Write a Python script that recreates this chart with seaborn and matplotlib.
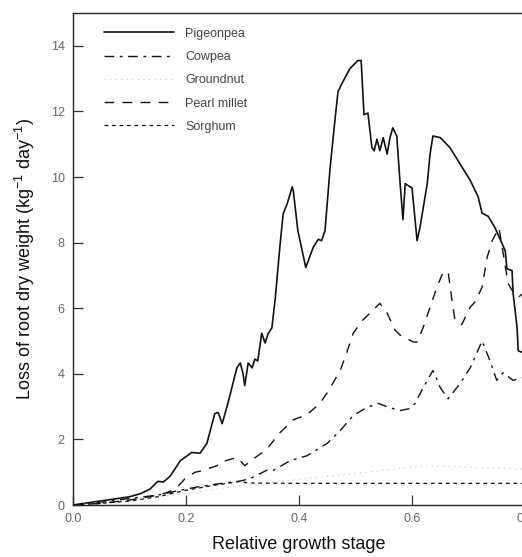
import matplotlib
matplotlib.use("Agg")
import matplotlib.pyplot as plt
import seaborn as sns
import pandas as pd

sns.set_theme(style="white")
plt.rcParams['font.family'] = ['Liberation Sans', 'DejaVu Sans']
plt.rcParams['mathtext.fontset'] = 'custom'
plt.rcParams['mathtext.rm'] = 'Liberation Sans'

# ---------------- data ----------------
pigeonpea_x = [0.0, 0.02, 0.04, 0.06, 0.08, 0.10, 0.12, 0.136, 0.15, 0.16, 0.172, 0.19, 0.21, 0.225,
               0.237, 0.251, 0.257, 0.264, 0.274, 0.29, 0.296, 0.301, 0.304, 0.31, 0.317, 0.322, 0.327,
               0.334, 0.34, 0.345, 0.352, 0.358, 0.366, 0.372, 0.379, 0.388, 0.39, 0.398, 0.412, 0.425,
               0.434, 0.44, 0.446, 0.455, 0.464, 0.469, 0.476, 0.49, 0.504, 0.51, 0.515, 0.522, 0.529,
               0.533, 0.538, 0.543, 0.549, 0.556, 0.561, 0.566, 0.573, 0.579, 0.584, 0.588, 0.592, 0.6,
               0.609, 0.614, 0.627, 0.632, 0.637, 0.65, 0.667, 0.685, 0.703, 0.717, 0.724, 0.735, 0.747,
               0.756, 0.765, 0.768, 0.777, 0.779, 0.786, 0.788, 0.793, 0.8]
pigeonpea_y = [0.0, 0.05, 0.1, 0.15, 0.2, 0.25, 0.35, 0.48, 0.72, 0.7, 0.88, 1.35, 1.6, 1.58,
               1.88, 2.79, 2.82, 2.48, 3.09, 4.18, 4.33, 4.0, 3.64, 4.33, 4.18, 4.45, 4.39,
               5.24, 4.94, 5.21, 5.4, 6.3, 7.85, 8.88, 9.18, 9.7, 9.57, 8.36, 7.24, 7.85,
               8.1, 8.06, 8.36, 10.27, 11.8, 12.6, 12.85, 13.3, 13.55, 13.55, 11.9, 11.95, 10.9,
               10.8, 11.15, 10.8, 11.2, 10.7, 11.2, 11.5, 11.25, 9.8, 8.7, 9.8, 9.75, 9.67,
               8.06, 8.45, 9.8, 10.7, 11.25, 11.2, 10.9, 10.4, 9.9, 9.4, 8.9, 8.8, 8.45,
               8.1, 7.75, 7.2, 7.15, 6.45, 5.4, 4.7, 4.67, 4.6]

cowpea_x = [0.0, 0.05, 0.1, 0.15, 0.19, 0.22, 0.255, 0.296, 0.313, 0.343, 0.354, 0.384, 0.414, 0.45,
            0.473, 0.496, 0.52, 0.54, 0.56, 0.579, 0.596, 0.605, 0.62, 0.637, 0.65, 0.664, 0.685,
            0.703, 0.724, 0.738, 0.75, 0.761, 0.779, 0.8]
cowpea_y = [0.0, 0.08, 0.2, 0.3, 0.45, 0.55, 0.64, 0.73, 0.8, 1.06, 1.05, 1.35, 1.5, 1.88,
            2.27, 2.73, 2.97, 3.1, 2.97, 2.88, 2.94, 3.09, 3.58, 4.1, 3.58, 3.24, 3.7,
            4.18, 5.0, 4.4, 3.8, 4.03, 3.8, 3.9]

groundnut_x = [0.0, 0.1, 0.2, 0.3, 0.437, 0.52, 0.62, 0.7, 0.8]
groundnut_y = [0.0, 0.15, 0.35, 0.6, 0.85, 1.0, 1.2, 1.15, 1.1]

pearl_x = [0.0, 0.05, 0.1, 0.15, 0.17, 0.185, 0.198, 0.216, 0.225, 0.255, 0.26, 0.29, 0.304, 0.319,
           0.343, 0.366, 0.39, 0.414, 0.437, 0.451, 0.473, 0.485, 0.496, 0.513, 0.531, 0.543, 0.556,
           0.57, 0.579, 0.602, 0.609, 0.62, 0.632, 0.644, 0.655, 0.664, 0.67, 0.676, 0.688, 0.703,
           0.712, 0.724, 0.733, 0.742, 0.754, 0.77, 0.777, 0.788, 0.8]
pearl_y = [0.0, 0.05, 0.15, 0.3, 0.4, 0.55, 0.8, 1.0, 1.03, 1.2, 1.3, 1.45, 1.2, 1.4,
           1.7, 2.2, 2.6, 2.75, 3.1, 3.45, 4.1, 4.67, 5.24, 5.64, 5.94, 6.15, 5.85,
           5.33, 5.18, 4.97, 4.97, 5.42, 6.03, 6.64, 7.1, 7.1, 6.33, 5.64, 5.5, 6.03,
           6.2, 6.64, 7.55, 8.06, 8.45, 6.76, 6.55, 6.33, 6.5]

sorghum_x = [0.0, 0.05, 0.1, 0.15, 0.2, 0.25, 0.296, 0.31, 0.4, 0.5, 0.6, 0.7, 0.8]
sorghum_y = [0.0, 0.05, 0.12, 0.25, 0.45, 0.6, 0.72, 0.67, 0.66, 0.66, 0.66, 0.66, 0.66]

x_ticks = [0.0, 0.2, 0.4, 0.6, 0.8]
x_tick_labels = ["0.0", "0.2", "0.4", "0.6", "0.8"]
y_ticks = [0, 2, 4, 6, 8, 10, 12, 14]

series = [
    ("Pigeonpea", pigeonpea_x, pigeonpea_y, dict(color="#111111", linestyle="-", linewidth=1.2)),
    ("Cowpea", cowpea_x, cowpea_y, dict(color="#111111", linestyle=(0, (7, 4, 2, 4)), linewidth=1.0)),
    ("Groundnut", groundnut_x, groundnut_y, dict(color="#c8c8c8", linestyle=(0, (1, 4)), linewidth=0.8)),
    ("Pearl millet", pearl_x, pearl_y, dict(color="#111111", linestyle=(0, (7, 6)), linewidth=1.0)),
    ("Sorghum", sorghum_x, sorghum_y, dict(color="#111111", linestyle=(0, (3, 3)), linewidth=0.9)),
]

# ---------------- figure ----------------
fig = plt.figure(figsize=(5.22, 5.57), dpi=100)
ax = fig.add_axes([73 / 522, 1 - 505 / 557, (525 - 73) / 522, (505 - 13) / 557])

for name, xs, ys, style in series:
    df = pd.DataFrame({"x": xs, "y": ys})
    sns.lineplot(data=df, x="x", y="y", ax=ax, label=name, sort=False, **style)

ax.set_xlim(0, 0.8)
ax.set_ylim(0, 15)
ax.set_xticks(x_ticks)
ax.set_xticklabels(x_tick_labels)
ax.set_yticks(y_ticks)
ax.tick_params(direction="in", length=7, width=0.9, colors="#333333",
               labelcolor="#666666", labelsize=9, pad=6, left=True, bottom=True)

for side in ["left", "bottom", "top", "right"]:
    ax.spines[side].set_visible(True)
    ax.spines[side].set_color("#222222")
    ax.spines[side].set_linewidth(1.0)

ax.set_xlabel("Relative growth stage", fontsize=13, color="#111111", labelpad=8)
ax.set_ylabel("Loss of root dry weight (kg$^{-1}$ day$^{-1}$)", fontsize=13,
              color="#111111", labelpad=10)

leg = ax.legend(loc="upper left", bbox_to_anchor=(0.057, 0.98), frameon=False,
                fontsize=9, handlelength=5.6, handletextpad=0.9, labelspacing=0.9,
                borderaxespad=0)
for t in leg.get_texts():
    t.set_color("#444444")

fig.savefig("out.png", dpi=100)
